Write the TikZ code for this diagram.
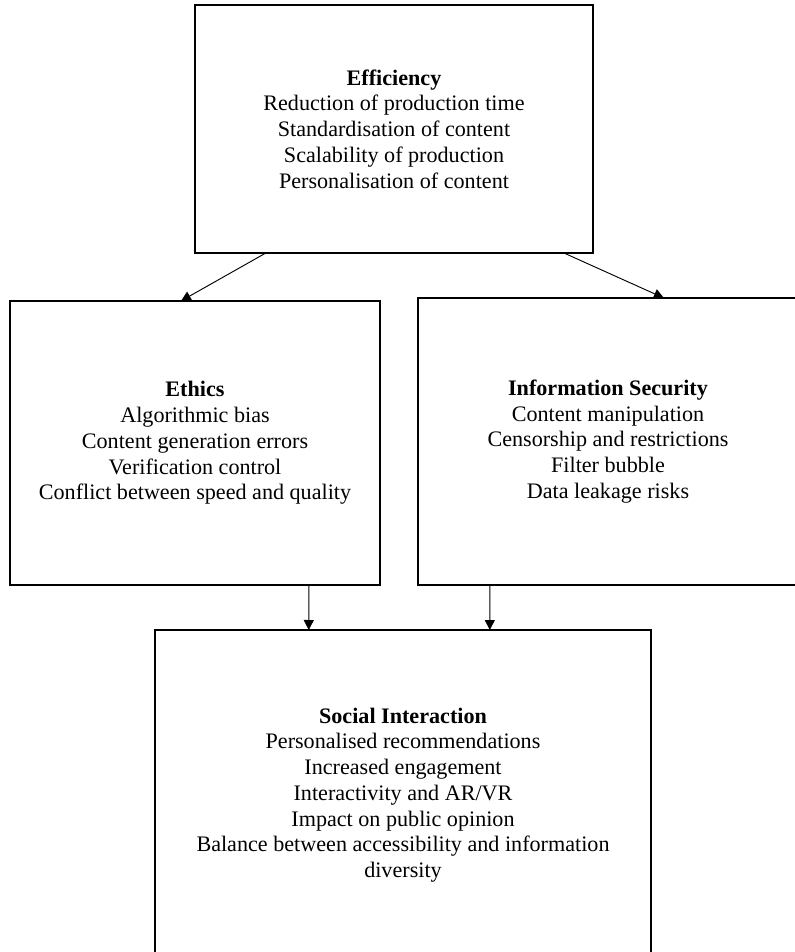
\documentclass[tikz,border=0pt]{standalone}
\usepackage{fontspec}
\setmainfont{Liberation Serif}
\usetikzlibrary{arrows.meta,calc}
\tikzset{
  box/.style={draw=black, line width=1.5pt, rectangle, inner sep=0pt, outer sep=0pt,
    align=center, font=\fontsize{16.6}{19.3}\selectfont},
  link/.style={draw=black, line width=0.7pt, -{Triangle[length=7.5pt,width=7.5pt]}}
}
\begin{document}
\begin{tikzpicture}[x=0.75pt,y=-0.75pt]
\useasboundingbox (0,0) rectangle (795,952);
\node[box, minimum width=398*0.75pt, minimum height=248*0.75pt] (eff) at (394,129)
  {\textbf{Efficiency}\\Reduction of production time\\Standardisation of content\\Scalability of production\\Personalisation of content};
\node[box, minimum width=370*0.75pt, minimum height=284*0.75pt] (eth) at (195,443)
  {\textbf{Ethics}\\Algorithmic bias\\Content generation errors\\Verification control\\Conflict between speed and quality};
\node[box, minimum width=380*0.75pt, minimum height=287*0.75pt] (sec) at (608,441.5)
  {\textbf{Information Security}\\Content manipulation\\Censorship and restrictions\\Filter bubble\\Data leakage risks};
\node[box, minimum width=496*0.75pt, minimum height=330*0.75pt] (soc) at (403,795)
  {\textbf{Social Interaction}\\Personalised recommendations\\Increased engagement\\Interactivity and AR/VR\\Impact on public opinion\\Balance between accessibility and information\\diversity};

\draw[link] ($(eff.south west)!0.178!(eff.south east)$) -- ($(eth.north west)!0.462!(eth.north east)$);
\draw[link] ($(eff.south west)!0.927!(eff.south east)$) -- ($(sec.north west)!0.647!(sec.north east)$);
\draw[link] ($(eth.south west)!0.808!(eth.south east)$) -- ($(soc.north west)!0.310!(soc.north east)$);
\draw[link] ($(sec.south west)!0.189!(sec.south east)$) -- ($(soc.north west)!0.675!(soc.north east)$);
\end{tikzpicture}
\end{document}
